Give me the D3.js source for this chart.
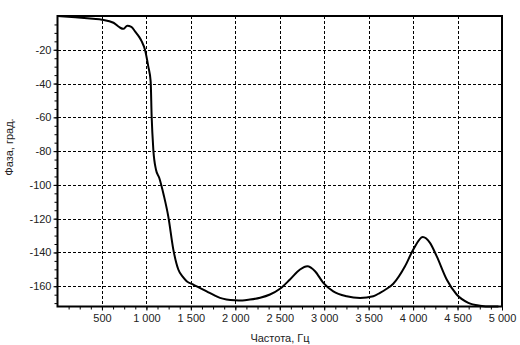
<!DOCTYPE html>
<html>
<head>
<meta charset="utf-8">
<script src="https://cdnjs.cloudflare.com/ajax/libs/d3/7.8.5/d3.min.js"></script>
<style>
    body { margin: 0; background: #fff; }
    .tick text { font-family: Arial, "Liberation Sans", sans-serif; font-size: 11px; fill: #222; }
    .grid line { stroke: #000; stroke-dasharray: 3,2; shape-rendering: crispEdges; }
    .grid path { stroke-width: 0; }
    .axis-label { font-family: Arial, "Liberation Sans", sans-serif; font-size: 11px; fill: #222; }
</style>
</head>
<body>
<div id="chart"></div>
<script>
    // frequency, Hz
    const freq = [0, 200, 400, 500, 630, 700, 740, 785, 830, 872, 920, 947, 984, 1021, 1048, 1059, 1078, 1108, 1145, 1198,
        1246, 1303, 1359, 1410, 1453, 1528, 1600, 1678, 1750, 1828, 1900, 1997, 2080, 2165, 2280, 2390, 2503, 2615, 2728, 2810,
        2897, 2990, 3102, 3253, 3403, 3552, 3628, 3703, 3777, 3909, 4002, 4108, 4190, 4265, 4378, 4490, 4621, 4753, 4880, 4960];
    // phase, degrees
    const phase = [0, -0.8, -1.7, -2.2, -4.0, -6.8, -7.6, -5.8, -6.4, -9.1, -12.5, -15, -20, -29.8, -38.7, -59.4, -79.1, -91, -95.9, -106.7,
        -118.6, -138.3, -150.1, -154.5, -157, -159, -161, -163, -165, -166.9, -167.8, -168.3, -168.4, -167.9, -166.8, -164.9, -161.5, -156, -150.1, -148.2,
        -151.1, -158, -163, -165.9, -166.9, -165.9, -163.9, -161.5, -158.5, -148.2, -138.3, -130.8, -134.3, -142.2, -156, -164.9, -169.8, -171.5, -172, -172];

    const xTicks = [500, 1000, 1500, 2000, 2500, 3000, 3500, 4000, 4500, 5000];
    const yTicks = [-20, -40, -60, -80, -100, -120, -140, -160];

    const W = 520, H = 345;
    const plot = {left: 57.5, right: 502, top: 16, bottom: 306.5};

    const loc = d3.formatLocale({decimal: ",", thousands: "\u00a0", grouping: [3], currency: ["", ""], minus: "-"});
    const fmt = loc.format(",d");

    const svg = d3.select("#chart").append("svg")
        .attr("width", W)
        .attr("height", H);

    const x = d3.scaleLinear().domain([0, 5000]).range([plot.left, plot.right]);
    const y = d3.scaleLinear().domain([-172, 0]).range([plot.bottom, plot.top]);

    const pw = plot.right - plot.left, ph = plot.bottom - plot.top;

    // grid
    svg.append("g")
        .attr("class", "grid")
        .attr("transform", `translate(0,${plot.top})`)
        .call(d3.axisBottom(x).tickValues(xTicks.slice(0, -1)).tickSize(ph).tickFormat(""));
    svg.append("g")
        .attr("class", "grid")
        .attr("transform", `translate(${plot.left},0)`)
        .call(d3.axisRight(y).tickValues(yTicks).tickSize(pw).tickFormat(""));

    // minor ticks
    svg.append("g")
        .attr("transform", `translate(0,${plot.bottom})`)
        .call(d3.axisBottom(x).tickValues(d3.range(125, 5000, 125)).tickSize(3).tickFormat(""))
        .call(g => g.select(".domain").remove());
    svg.append("g")
        .attr("transform", `translate(${plot.left},0)`)
        .call(d3.axisLeft(y).tickValues(d3.range(-170, 0, 5)).tickSize(3).tickFormat(""))
        .call(g => g.select(".domain").remove());

    // major ticks + labels
    svg.append("g")
        .attr("transform", `translate(0,${plot.bottom})`)
        .call(d3.axisBottom(x).tickValues(xTicks).tickSize(4).tickPadding(4).tickFormat(fmt))
        .call(g => g.select(".domain").remove());
    svg.append("g")
        .attr("transform", `translate(${plot.left},0)`)
        .call(d3.axisLeft(y).tickValues(yTicks).tickSize(4).tickPadding(2).tickFormat(fmt))
        .call(g => g.select(".domain").remove());

    // frame
    svg.append("rect")
        .attr("x", plot.left)
        .attr("y", plot.top)
        .attr("width", pw)
        .attr("height", ph)
        .attr("fill", "none")
        .attr("stroke", "#000")
        .attr("stroke-width", 2);

    // curve
    const pts = freq.map((f, i) => [f, phase[i]]);
    svg.append("path")
        .datum(pts)
        .attr("fill", "none")
        .attr("stroke", "#000")
        .attr("stroke-width", 2)
        .attr("d", d3.line().x(d => x(d[0])).y(d => y(d[1])).curve(d3.curveMonotoneX));

    svg.append("text")
        .attr("class", "axis-label")
        .attr("x", 280)
        .attr("y", 342)
        .attr("text-anchor", "middle")
        .text("Частота, Гц");

    svg.append("text")
        .attr("class", "axis-label")
        .attr("transform", "translate(13,147) rotate(-90)")
        .attr("text-anchor", "middle")
        .text("Фаза, град.");
</script>
</body>
</html>
